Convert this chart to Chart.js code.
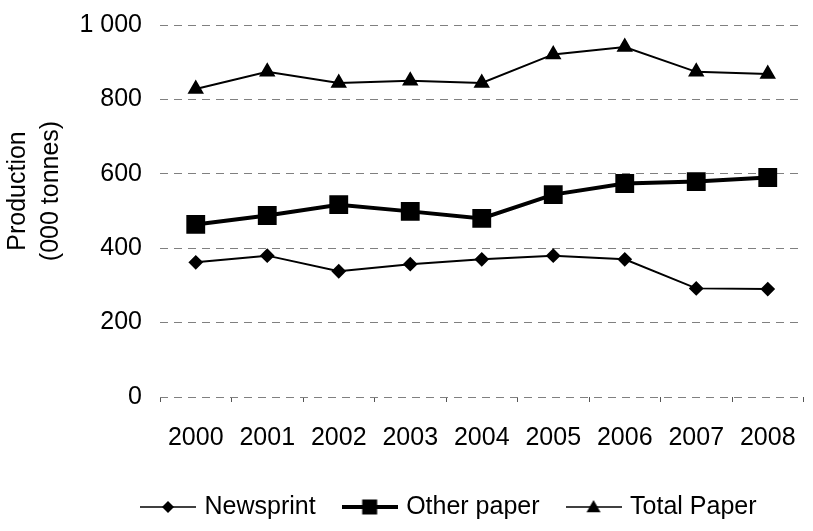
<!DOCTYPE html>
<html>
<head>
<meta charset="utf-8">
<script src="https://cdn.jsdelivr.net/npm/chart.js@4.4.0/dist/chart.umd.min.js"></script>
<style>
  html, body { margin: 0; padding: 0; background: #fff; overflow: hidden; width: 813px; height: 531px; }
  #wrap { width: 818px; height: 531px; }
</style>
</head>
<body>
<div id="wrap"><canvas id="paperChart"></canvas></div>
<script>
// Chart data
const years = ['2000', '2001', '2002', '2003', '2004', '2005', '2006', '2007', '2008'];
const newsprint = [362, 380, 338, 357, 370, 380, 370, 292, 290];
const otherPaper = [464, 488, 517, 499, 480, 544, 574, 579, 590];
const totalPaper = [828, 874, 844, 850, 844, 921, 941, 874, 868];
const yTicks = [0, 200, 400, 600, 800, 1000];

const FONT = 'Liberation Sans, Arial, sans-serif';
const FONT_SIZE = 25;
const LEGEND_PAD = 30;

// Small canvas used as a legend symbol: a line with the marker in the middle
function legendSymbol(marker, lineWidth, size) {
    const w = 56, h = 20, cx = w / 2, cy = h / 2;
    const c = document.createElement('canvas');
    c.width = w;
    c.height = h;
    const ctx = c.getContext('2d');
    ctx.strokeStyle = '#000';
    ctx.fillStyle = '#000';
    ctx.lineWidth = lineWidth;
    ctx.beginPath();
    ctx.moveTo(0, cy);
    ctx.lineTo(w, cy);
    ctx.stroke();
    ctx.beginPath();
    if (marker === 'diamond') {
        ctx.moveTo(cx, cy - size); ctx.lineTo(cx + size, cy);
        ctx.lineTo(cx, cy + size); ctx.lineTo(cx - size, cy);
    } else if (marker === 'square') {
        ctx.rect(cx - size, cy - size, size * 2, size * 2);
    } else {
        ctx.moveTo(cx, cy - size); ctx.lineTo(cx + size, cy + size * 0.75);
        ctx.lineTo(cx - size, cy + size * 0.75);
    }
    ctx.closePath();
    ctx.fill();
    return c;
}

const symbols = [
    legendSymbol('diamond', 1.5, 6),
    legendSymbol('square', 4, 7.5),
    legendSymbol('triangle', 1.5, 7)
];

// moves the legend to where it sits in the original, and nudges the axis title
const layoutTweaks = {
    id: 'layoutTweaks',
    afterLayout: function(chart) {
        const lg = chart.legend;
        const lw = lg.lineWidths[0];
        const currentStart = (lg.left + LEGEND_PAD + lg.right - lw) / 2;
        const dx = 144 - currentStart;
        lg.left += dx;
        lg.right += dx;

        const yScale = chart.scales.y;
        if (!yScale._titleWrapped) {
            const orig = yScale.drawTitle;
            yScale.drawTitle = function() {
                const c = this.ctx;
                c.save();
                c.translate(0, -20);
                orig.apply(this, arguments);
                c.restore();
            };
            yScale._titleWrapped = true;
        }
    }
};

document.addEventListener('DOMContentLoaded', function() {
    const ctx = document.getElementById('paperChart');

    new Chart(ctx, {
        type: 'line',
        data: {
            labels: years,
            datasets: [
                {
                    label: 'Newsprint',
                    data: newsprint,
                    borderColor: '#000',
                    backgroundColor: '#000',
                    borderWidth: 2,
                    pointStyle: 'rectRot',
                    pointRadius: 6,
                    pointHoverRadius: 6,
                    tension: 0
                },
                {
                    label: 'Other paper',
                    data: otherPaper,
                    borderColor: '#000',
                    backgroundColor: '#000',
                    borderWidth: 4,
                    pointStyle: 'rect',
                    pointRadius: 10.5,
                    pointHoverRadius: 10.5,
                    tension: 0
                },
                {
                    label: 'Total Paper',
                    data: totalPaper,
                    borderColor: '#000',
                    backgroundColor: '#000',
                    borderWidth: 2,
                    pointStyle: 'triangle',
                    pointRadius: 7.5,
                    pointHoverRadius: 7.5,
                    tension: 0
                }
            ]
        },
        options: {
            responsive: true,
            maintainAspectRatio: false,
            animation: false,
            layout: {
                padding: { left: 0, right: 0, top: 0, bottom: 1.5 }
            },
            plugins: {
                tooltip: { enabled: false },
                legend: {
                    position: 'bottom',
                    labels: {
                        usePointStyle: true,
                        pointStyleWidth: 48,
                        padding: LEGEND_PAD,
                        color: '#000',
                        font: { family: FONT, size: FONT_SIZE },
                        generateLabels: function(chart) {
                            return chart.data.datasets.map(function(ds, i) {
                                return {
                                    text: ds.label,
                                    pointStyle: symbols[i],
                                    fillStyle: '#000',
                                    strokeStyle: '#000',
                                    lineWidth: 0,
                                    hidden: false,
                                    datasetIndex: i
                                };
                            });
                        }
                    }
                }
            },
            scales: {
                x: {
                    offset: true,
                    border: { display: false },
                    grid: {
                        offset: true,
                        drawOnChartArea: false,
                        drawTicks: true,
                        tickLength: 5,
                        color: '#555'
                    },
                    ticks: {
                        color: '#000',
                        padding: 21,
                        maxRotation: 0,
                        autoSkip: false,
                        font: { family: FONT, size: FONT_SIZE }
                    },
                    afterFit: function(scale) {
                        scale.height = 67.5;
                    }
                },
                y: {
                    min: 0,
                    max: 1000,
                    border: { display: false, dash: [8, 6] },
                    grid: {
                        color: '#808080',
                        drawTicks: false,
                        lineWidth: 1
                    },
                    afterBuildTicks: function(scale) {
                        scale.ticks = yTicks.map(v => ({ value: v }));
                    },
                    ticks: {
                        color: '#000',
                        padding: 18,
                        font: { family: FONT, size: FONT_SIZE },
                        callback: function(v) {
                            return v >= 1000 ? '1 000' : String(v);
                        }
                    },
                    title: {
                        display: true,
                        text: ['Production', '(000 tonnes)'],
                        color: '#000',
                        font: { family: FONT, size: FONT_SIZE, lineHeight: 1.3 },
                        padding: { top: 2, bottom: 0 }
                    },
                    afterFit: function(scale) {
                        scale.width = 160;
                        scale.paddingTop = 25;
                    }
                }
            }
        },
        plugins: [layoutTweaks]
    });
});
</script>
</body>
</html>
